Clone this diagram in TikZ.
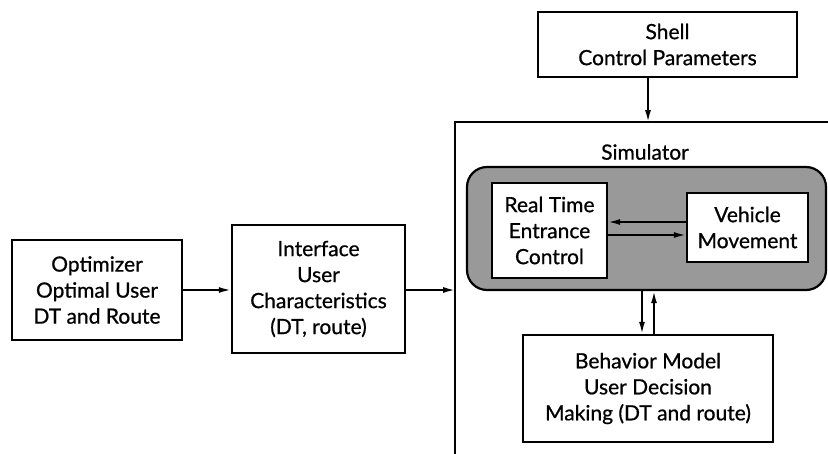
\documentclass[tikz,border=0pt]{standalone}
\usepackage{fontspec}
\setmainfont{Lato}[FakeBold=0.7]
\usetikzlibrary{arrows.meta}
\begin{document}
\begin{tikzpicture}[x=1pt,y=-1pt,
  box/.style={draw=black,line width=2.2pt,fill=white,align=center,inner sep=0pt,
    font=\fontsize{21}{26}\selectfont},
  arr/.style={line width=1.8pt,-{Latex[length=12pt,width=6pt]}},
  lbl/.style={align=center,font=\fontsize{21}{26}\selectfont}]
\useasboundingbox (0,0) rectangle (828,453);
% simulator frame
\draw[line width=2.2pt] (455,454) -- (455,122) -- (829,122);
\node[lbl] (simlbl) at (645,152) {Simulator};
\coordinate (simL) at (455,290);
\coordinate (simT) at (648,122);
% gray area
\node[draw=black,line width=2.2pt,fill=black!40,rounded corners=20pt,
  minimum width=359pt,minimum height=123pt,inner sep=0pt] (gray) at (646.5,228.5) {};
% boxes
\node[box,minimum width=170pt,minimum height=100pt] (opt) at (97,290)
  {Optimizer\\Optimal User\\DT and Route};
\node[box,minimum width=173pt,minimum height=128pt] (intf) at (318.5,289)
  {Interface\\User\\Characteristics\\(DT, route)};
\node[box,minimum width=259pt,minimum height=65pt] (shell) at (667.5,44.5)
  {Shell\\Control Parameters};
\node[box,minimum width=115pt,minimum height=95pt] (rt) at (549.5,230.5)
  {Real Time\\Entrance\\Control};
\node[box,minimum width=121pt,minimum height=69pt] (vm) at (747.5,227.5)
  {Vehicle\\Movement};
\node[box,minimum width=250pt,minimum height=107pt] (bm) at (648,388.5)
  {Behavior Model\\User Decision\\Making (DT and route)};
% connectors
\draw[arr] (opt.east) -- (intf.west |- opt.east);
\draw[arr] (intf.east |- simL) -- (simL);
\draw[arr] (shell.south -| simT) -- (simT);
\coordinate (h1) at (0,222);
\coordinate (h2) at (0,235);
\draw[arr] (vm.west |- h1) -- (rt.east |- h1);
\draw[arr] (rt.east |- h2) -- (vm.west |- h2);
\coordinate (v1) at (642,0);
\coordinate (v2) at (654,0);
\draw[arr] (gray.south -| v1) -- (bm.north -| v1);
\draw[arr] (bm.north -| v2) -- (gray.south -| v2);
\end{tikzpicture}
\end{document}
